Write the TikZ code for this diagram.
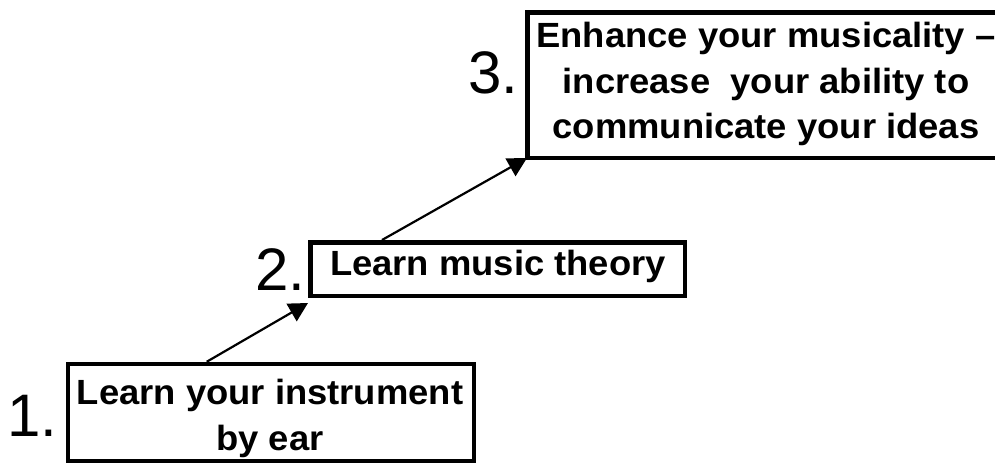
\documentclass[tikz,border=0pt]{standalone}
\usepackage{fontspec}
\setmainfont{Liberation Sans}
\newfontfamily\boxfont[FakeStretch=1.04]{Liberation Sans}
\usetikzlibrary{arrows.meta}
\begin{document}
\begin{tikzpicture}[x=1pt,y=-1pt,
  stepbox/.style={draw, rectangle, line width=4.5pt, inner sep=0pt},
  boxtext/.style={font=\boxfont\bfseries\fontsize{35}{45.5}\selectfont, align=center, inner sep=0pt, anchor=north},
  numlabel/.style={font=\fontsize{60}{60}\selectfont, inner sep=0pt, anchor=base west},
  conn/.style={line width=2.2pt, -{Triangle[length=19pt,width=20pt]}}]
\useasboundingbox (0,0) rectangle (995,466);
\clip (0,0) rectangle (995,466);
% boxes
\node[stepbox, minimum width=406pt, minimum height=97pt] (b1) at (271,412.5) {};
\node[stepbox, minimum width=374.5pt, minimum height=53.5pt] (b2) at (497.5,269) {};
\node[stepbox, minimum width=477.5pt, minimum height=145.5pt] (b3) at (766,85) {};
% texts
\node[boxtext] (t1) at (270,379) {Learn your instrument\\by ear};
\node[boxtext] (t2) at (498,250) {Learn music theory};
\node[boxtext] (t3) at (766,22) {Enhance your musicality –\\increase\ \ your ability to\\communicate your ideas};
% numbers
\node[numlabel] (n1) at (7,436) {1.};
\node[numlabel] (n2) at (255,290) {2.};
\node[numlabel] (n3) at (468,93) {3.};
% connectors
\draw[conn] ([xshift=141pt]b1.north west) -- ([yshift=-5pt]b2.south west);
\draw[conn] ([xshift=74pt]b2.north west) -- ([shift={(2pt,2pt)}]b3.south west);
\end{tikzpicture}
\end{document}
